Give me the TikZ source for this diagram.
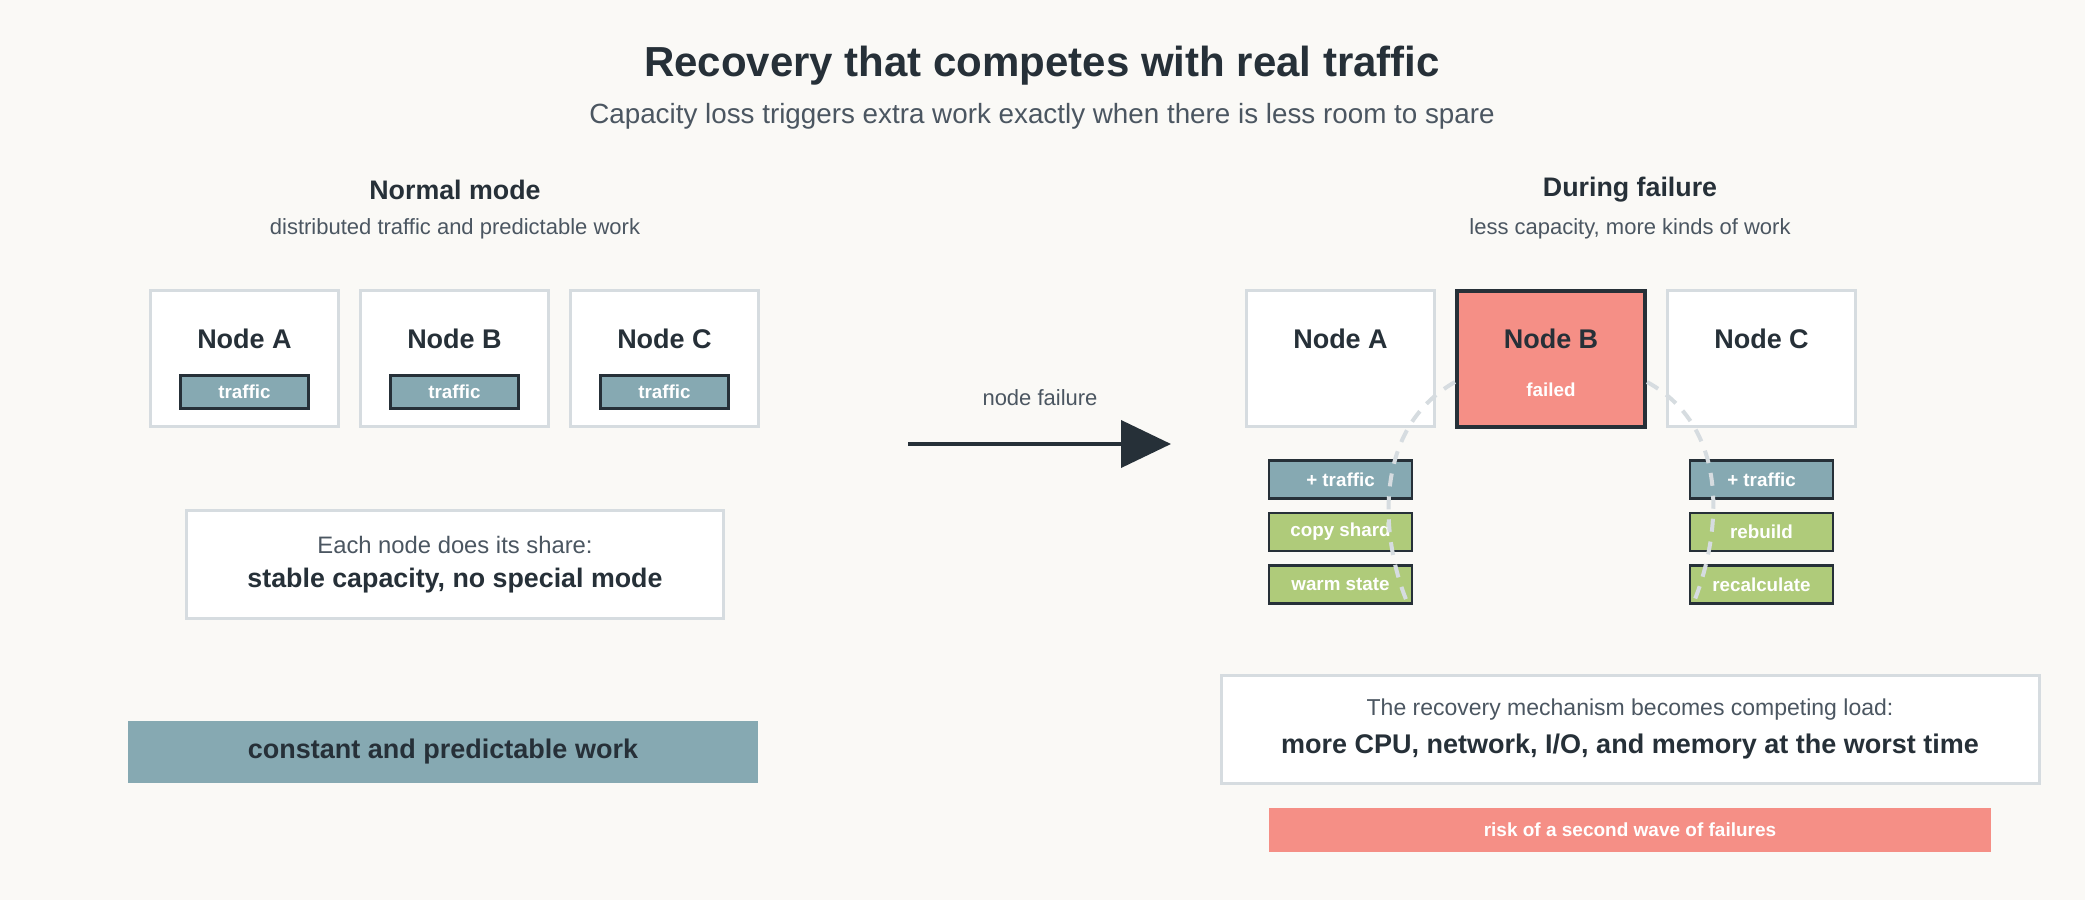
\documentclass[tikz,border=0pt]{standalone}
\usepackage{fontspec}
\setmainfont{Liberation Sans}
\usepackage{xcolor}
\usetikzlibrary{arrows.meta,positioning}

\definecolor{paper}{HTML}{FAF9F6}
\definecolor{ink}{HTML}{263038}
\definecolor{inksoft}{HTML}{4B5661}
\definecolor{edgegray}{HTML}{D6DCE0}
\definecolor{trafficteal}{HTML}{86A9B2}
\definecolor{workgreen}{HTML}{AFCB7A}
\definecolor{failred}{HTML}{F58F86}

\newcommand{\fs}[1]{\fontsize{#1}{#1}\selectfont}

\begin{document}
\begin{tikzpicture}[x=0.5pt, y=-0.5pt,
    srv/.style={draw=edgegray, line width=1.5pt, fill=white,
                minimum width=94pt, minimum height=68pt, inner sep=0pt},
    srvname/.style={text=ink, font=\bfseries\fs{13.5}},
    tag/.style={draw=ink, line width=1.3pt, text=white, inner sep=0pt,
                font=\bfseries\fs{9.4}},
    sharetag/.style={tag, fill=trafficteal, minimum width=64pt, minimum height=16.5pt},
    loadtag/.style={tag, fill=trafficteal, minimum width=71.5pt, minimum height=19pt},
    worktag/.style={tag, fill=workgreen, minimum width=71.5pt, minimum height=19pt},
    note/.style={draw=edgegray, line width=1.5pt, fill=white, minimum height=54pt},
    head/.style={text=ink, font=\bfseries\fs{13.4}},
    sub/.style={text=inksoft, font=\fs{11}},
    arrow/.style={-{Triangle[length=25pt,width=23.5pt]}, line width=2pt, draw=ink},
    recover/.style={draw=edgegray, line width=2pt, dash pattern=on 6.5pt off 5pt}
  ]
  \fill[paper] (0,0) rectangle (2085,900);

  \node[text=ink, font=\bfseries\fs{21}] (title) at (1042,66) {Recovery that competes with real traffic};
  \node[text=inksoft, font=\fs{13.9}] (subtitle) at (1042,116) {Capacity loss triggers extra work exactly when there is less room to spare};

  % normal mode
  \node[head] (normal) at (455,190) {Normal mode};
  \node[sub]  (normalsub) at (455,229) {distributed traffic and predictable work};

  \node[srv] (la) at (244.5,358.5) {};
  \node[srv, right=9.5pt of la] (lb) {};
  \node[srv, right=9.5pt of lb] (lc) {};
  \foreach \n/\t in {la/A, lb/B, lc/C} {
    \node[srvname] (\n name) at ([yshift=9.75pt]\n.center) {Node \t};
    \node[sharetag] (\n tag) at ([yshift=-16.75pt]\n.center) {traffic};
  }

  \node[note, minimum width=268.5pt] (lnote) at (455,564.5) {};
  \node[text=inksoft, font=\fs{11.9}] (lnotea) at ([yshift=9.75pt]lnote.center) {Each node does its share:};
  \node[text=ink, font=\bfseries\fs{13.4}] (lnoteb) at ([yshift=-8.25pt]lnote.center) {stable capacity, no special mode};

  \node[fill=trafficteal, minimum width=315pt, minimum height=31pt, text=ink,
        font=\bfseries\fs{13.5}] (steady) at (443,752) {constant and predictable work};

  % transition
  \node[text=inksoft, font=\fs{11}] (failtxt) at (1040,398) {node failure};
  \coordinate (arrs) at (908,444);
  \coordinate (arre) at (1171,444);
  \draw[arrow] (arrs) -- (arre);

  % during failure
  \node[head] (during) at (1630,190) {During failure};
  \node[sub]  (duringsub) at (1630,229) {less capacity, more kinds of work};

  \node[srv] (ra) at (1340.5,358.5) {};
  \node[srv, draw=ink, line width=2pt, fill=failred, right=9.5pt of ra] (rb) {};
  \node[srv, right=9.5pt of rb] (rc) {};
  \foreach \n/\t in {ra/A, rb/B, rc/C}
    \node[srvname] (\n name) at ([yshift=9.75pt]\n.center) {Node \t};
  \node[text=white, font=\bfseries\fs{9.4}] (rbfail) at ([yshift=-15.75pt]rb.center) {failed};

  \node[loadtag, below=15.5pt of ra] (ra1) {+ traffic};
  \node[worktag, below=6pt of ra1] (ra2) {copy shard};
  \node[worktag, below=6pt of ra2] (ra3) {warm state};
  \node[loadtag, below=15.5pt of rc] (rc1) {+ traffic};
  \node[worktag, below=6pt of rc1] (rc2) {rebuild};
  \node[worktag, below=6pt of rc2] (rc3) {recalculate};

  \draw[recover] ([yshift=-11.75pt]rb.west) .. controls +(-85,48) and +(-27,-62) .. ([xshift=-2.5pt]ra3.south east);
  \draw[recover] ([yshift=-11.75pt]rb.east) .. controls +(88,48) and +(26,-62) .. ([xshift=2pt]rc3.south west);

  \node[note, minimum width=409pt] (rnote) at (1630,729) {};
  \node[text=inksoft, font=\fs{11.5}] (rnotea) at ([yshift=9.5pt]rnote.center) {The recovery mechanism becomes competing load:};
  \node[text=ink, font=\bfseries\fs{13.5}] (rnoteb) at ([yshift=-9pt]rnote.center) {more CPU, network, I/O, and memory at the worst time};

  \node[fill=failred, minimum width=361pt, minimum height=22pt, text=white,
        font=\bfseries\fs{9.5}] (risk) at (1630,830) {risk of a second wave of failures};
\end{tikzpicture}
\end{document}
